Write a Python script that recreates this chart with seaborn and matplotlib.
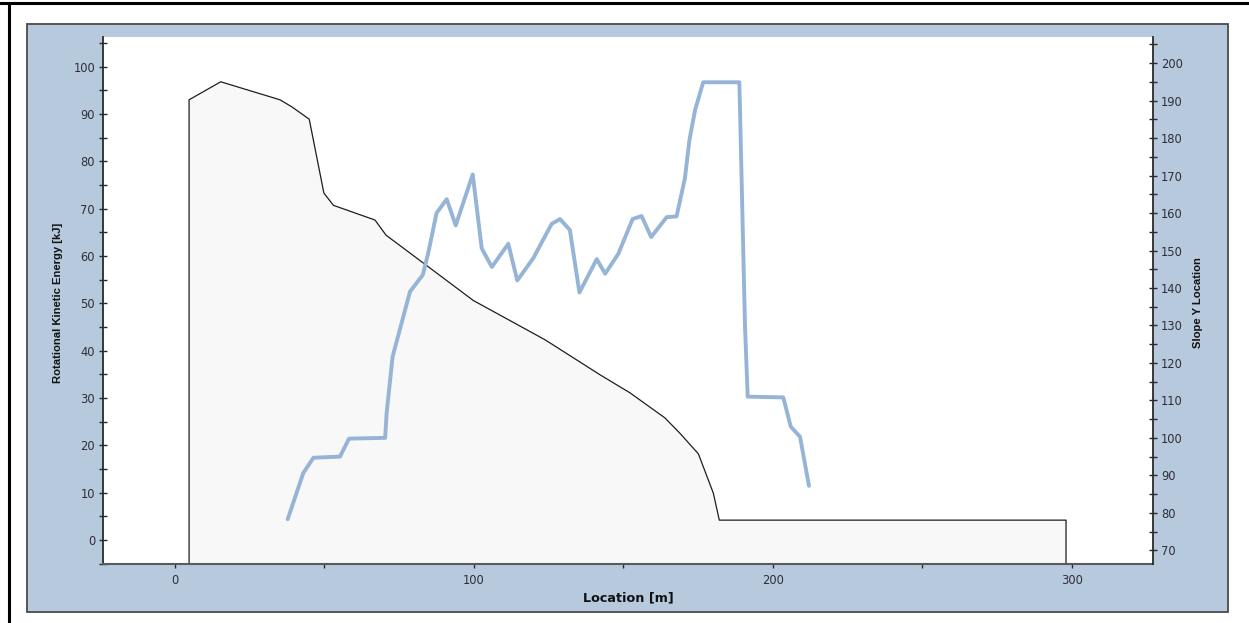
import matplotlib
matplotlib.use("Agg")
import matplotlib.pyplot as plt
import pandas as pd
import seaborn as sns
from matplotlib.patches import Rectangle
from matplotlib.lines import Line2D
from matplotlib.ticker import MultipleLocator, FixedLocator

# Rotational kinetic energy along the run-out path
energy_location = [4.7, 15.3, 35.1, 39.1, 44.9, 49.8, 53.0, 66.9, 70.6, 83.1,
                   99.8, 123.8, 142.2, 152.2, 163.9, 169.0, 175.1, 180.1, 182.1, 298.1]
energy_kj = [93.0, 96.8, 93.0, 91.5, 88.9, 73.3, 70.7, 67.6, 64.4, 58.5,
             50.6, 42.3, 34.9, 31.1, 25.8, 22.5, 18.2, 9.9, 4.2, 4.2]

# Slope Y location of the block along the same path
slope_location = [37.7, 42.9, 46.3, 55.2, 58.2, 70.3, 70.8, 72.8, 78.6, 82.9,
                  84.7, 87.5, 90.9, 93.9, 99.6, 102.6, 106.0, 111.5, 114.5, 119.9,
                  126.0, 128.8, 132.1, 135.3, 141.1, 143.9, 148.3, 153.1, 156.1, 159.3,
                  164.5, 167.8, 170.6, 172.1, 174.0, 176.7, 188.8, 189.0, 190.7, 191.6,
                  203.5, 206.0, 209.1, 212.1]
slope_y = [78.3, 90.6, 94.7, 95.0, 99.8, 100.0, 106.7, 121.7, 139.0, 143.5,
           149.3, 160.0, 163.7, 156.7, 170.3, 150.6, 145.6, 151.8, 142.0, 148.0,
           157.1, 158.4, 155.5, 138.8, 147.7, 143.8, 149.1, 158.4, 159.2, 153.6,
           158.9, 159.1, 169.3, 179.5, 187.5, 194.9, 194.9, 188.4, 129.7, 111.0,
           110.8, 103.0, 100.3, 87.2]

x_ticks = [0, 100, 200, 300]
energy_ticks = list(range(0, 101, 10))
slope_ticks = list(range(70, 201, 10))

X_LIM = (-24.2, 327.3)
ENERGY_LIM = (-5.13, 106.2)
SLOPE_LIM = (66.26, 206.9)

PANEL = "#b7c9dd"
LINE_BLUE = "#95b4d6"
TEXT = "#2e2e38"

sns.set_style("white")
plt.rcParams["font.family"] = ["DejaVu Sans"]

W, H = 1249, 623
fig = plt.figure(figsize=(W / 100, H / 100), dpi=100)
fig.patch.set_facecolor("white")

# blue chart panel and outer frame
fig.patches.append(Rectangle((27.3 / W, 1 - 611.5 / H), (1228.3 - 27.3) / W, (611.5 - 24.0) / H,
                             transform=fig.transFigure, facecolor=PANEL,
                             edgecolor="#4a4a4a", linewidth=1.3, zorder=-2))
fig.lines.append(Line2D([0, 1], [1 - 2.8 / H, 1 - 2.8 / H], transform=fig.transFigure,
                        color="black", linewidth=2.2, zorder=-1))
fig.lines.append(Line2D([8.6 / W, 8.6 / W], [0, 1 - 2.8 / H], transform=fig.transFigure,
                        color="black", linewidth=2.2, zorder=-1))

left, right, top, bottom = 102.7, 1153.3, 37.3, 564.3
ax = fig.add_axes([left / W, 1 - bottom / H, (right - left) / W, (bottom - top) / H])
ax.set_facecolor("white")
ax2 = ax.twinx()

# energy profile: filled area closed down to the axis floor
floor = ENERGY_LIM[0]
energy_df = pd.DataFrame({
    "location": [energy_location[0]] + energy_location + [energy_location[-1]],
    "energy": [floor] + energy_kj + [floor],
})
ax.fill_between(energy_df["location"], energy_df["energy"], floor,
                color="#f8f8f8", linewidth=0, zorder=1)
sns.lineplot(data=energy_df, x="location", y="energy", sort=False, estimator=None,
             color="#1e1e1e", linewidth=0.9, ax=ax, zorder=2)

slope_df = pd.DataFrame({"location": slope_location, "slope_y": slope_y})
sns.lineplot(data=slope_df, x="location", y="slope_y", sort=False, estimator=None,
             color=LINE_BLUE, linewidth=2.8, ax=ax2, zorder=3)

ax.set_xlim(*X_LIM)
ax.set_ylim(*ENERGY_LIM)
ax2.set_ylim(*SLOPE_LIM)

ax.xaxis.set_major_locator(FixedLocator(x_ticks))
ax.xaxis.set_minor_locator(MultipleLocator(50))
ax.yaxis.set_major_locator(FixedLocator(energy_ticks))
ax.yaxis.set_minor_locator(MultipleLocator(5))
ax2.yaxis.set_major_locator(FixedLocator(slope_ticks))
ax2.yaxis.set_minor_locator(MultipleLocator(5))

for a in (ax, ax2):
    for s in a.spines.values():
        s.set_visible(False)
ax.spines["left"].set_visible(True)
ax.spines["left"].set_color("#2a2a2a")
ax.spines["left"].set_linewidth(1.3)
ax.spines["bottom"].set_visible(True)
ax.spines["bottom"].set_color("#5a5a5a")
ax.spines["bottom"].set_linewidth(1.5)
ax2.spines["right"].set_visible(True)
ax2.spines["right"].set_color("#2a2a2a")
ax2.spines["right"].set_linewidth(1.3)

tick_font = dict(labelsize=8.3, labelcolor=TEXT, color="#2a2a2a")
ax.tick_params(axis="y", which="both", direction="inout", length=6, width=1.0,
               left=True, right=False, pad=2.5, **tick_font)
ax.tick_params(axis="x", which="both", direction="out", length=3, width=1.0,
               bottom=True, top=False, pad=4, **tick_font)
ax2.tick_params(axis="y", which="both", direction="inout", length=6, width=1.0,
                right=True, left=False, pad=2.5, **tick_font)

label_font = ["Liberation Sans", "DejaVu Sans"]
ax.set_xlabel("Location [m]", fontsize=9.2, fontweight="bold", color="#111111")
ax.xaxis.set_label_coords(0.5, -0.052)
ax.set_ylabel("Rotational Kinetic Energy [kJ]", fontsize=8.1, fontweight="bold",
              color="#111111", family=label_font)
ax.yaxis.set_label_coords(-0.0375, 0.496)
ax2.set_ylabel("Slope Y Location", fontsize=8.1, fontweight="bold",
               color="#111111", family=label_font, rotation=90)
ax2.yaxis.set_label_coords(1.0375, 0.496)

fig.savefig("out.png", dpi=100, facecolor=fig.get_facecolor())
